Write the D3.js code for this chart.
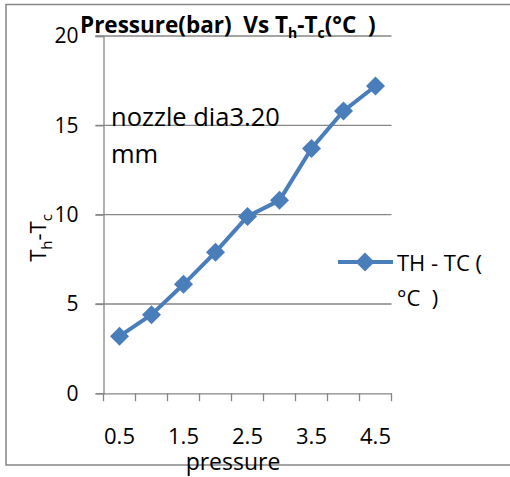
<!DOCTYPE html>
<html><head><meta charset="utf-8">
<script src="https://cdn.jsdelivr.net/npm/d3@7"></script>
<style>body{margin:0;background:#fff}text{font-family:"Open Sans",sans-serif;white-space:pre}</style>
</head><body>
<svg id="c" width="510" height="477"></svg>
<script>
const categories = ["0.5","1","1.5","2","2.5","3","3.5","4","4.5"];
const values = [3.2, 4.4, 6.1, 7.9, 9.9, 10.8, 13.7, 15.8, 17.2];
const yTicks = [0, 5, 10, 15, 20];
const xLabels = ["0.5","1.5","2.5","3.5","4.5"];
const seriesName = "TH - TC (";
const seriesName2 = "°C  )";

const svg = d3.select("#c");
const grey = "#868686", blue = "#4a7ebb";
svg.append("rect").attr("x",6).attr("y",4.5).attr("width",520).attr("height",460.5)
  .attr("fill","none").attr("stroke",grey).attr("stroke-width",1.5);

const L=103.5, R=391.5, T=36, B=393.3;
const x = d3.scaleBand().domain(categories).range([L,R]);
const y = d3.scaleLinear().domain([0,20]).range([B,T]);

// gridlines
svg.append("g").selectAll("line").data(yTicks.slice(1)).join("line")
  .attr("x1",L-8).attr("x2",R).attr("y1",d=>y(d)).attr("y2",d=>y(d))
  .attr("stroke",grey).attr("stroke-width",1.3);

// y axis
const ya = svg.append("g").attr("transform",`translate(${L},0)`)
  .call(d3.axisLeft(y).tickValues(yTicks).tickSize(8).tickPadding(17));
ya.select(".domain").attr("stroke",grey).attr("stroke-width",1.3);
ya.selectAll(".tick line").attr("stroke",grey).attr("stroke-width",1.3);
ya.selectAll("text").attr("font-size",21).attr("fill","#000").attr("font-family","Open Sans");

// x axis
const xa = svg.append("g").attr("transform",`translate(0,${B})`)
  .call(d3.axisBottom(x).tickSize(0).tickFormat(d=>xLabels.includes(d)?d:""));
xa.select(".domain").attr("stroke",grey).attr("stroke-width",1.3);
xa.selectAll("text").attr("font-size",22).attr("fill","#000").attr("dy",0).attr("y",51).attr("font-family","Open Sans");
const edges = categories.map(c=>x(c)).concat([R]);
svg.append("g").selectAll("line").data(edges).join("line")
  .attr("x1",d=>d).attr("x2",d=>d).attr("y1",B).attr("y2",B+8)
  .attr("stroke",grey).attr("stroke-width",1.3);

// line
const cx = d=>x(d)+x.bandwidth()/2;
svg.append("path").datum(values)
  .attr("d", d3.line().x((d,i)=>cx(categories[i])).y(d=>y(d)))
  .attr("fill","none").attr("stroke",blue).attr("stroke-width",4);
const diamond = d3.symbol().type(d3.symbolDiamond2).size(230);
svg.append("g").selectAll("path").data(values).join("path")
  .attr("d",diamond)
  .attr("transform",(d,i)=>`translate(${cx(categories[i])},${y(d)})`)
  .attr("fill",blue);

// title
const t = svg.append("text").attr("x",80).attr("y",33).attr("font-size",22.5).attr("font-weight","bold").attr("font-family","Open Sans");
t.append("tspan").text("Pressure(bar)  Vs T");
t.append("tspan").attr("font-size",14).attr("dy",5).text("h");
t.append("tspan").attr("dy",-5).text("-T");
t.append("tspan").attr("font-size",14).attr("dy",5).text("c");
t.append("tspan").attr("dy",-5).text("(°C  )");

// annotation
svg.append("text").attr("x",111).attr("y",126).attr("font-size",25.5).text("nozzle dia3.20");
svg.append("text").attr("x",111).attr("y",163).attr("font-size",25.5).text("mm");

// axis titles
svg.append("text").attr("x",233).attr("y",470).attr("text-anchor","middle").attr("font-size",23).text("pressure");
const yt = svg.append("text").attr("transform","translate(46,238) rotate(-90)").attr("text-anchor","middle").attr("font-size",22);
yt.append("tspan").text("T");
yt.append("tspan").attr("font-size",15).attr("dy",6).text("h");
yt.append("tspan").attr("dy",-6).text("-T");
yt.append("tspan").attr("font-size",15).attr("dy",6).text("c");

// legend
svg.append("line").attr("x1",338).attr("x2",393).attr("y1",262).attr("y2",262).attr("stroke",blue).attr("stroke-width",4);
svg.append("path").attr("d",diamond).attr("transform","translate(365,262)").attr("fill",blue);
svg.append("text").attr("x",397).attr("y",271).attr("font-size",22).text(seriesName);
svg.append("text").attr("x",397).attr("y",306).attr("font-size",22).text(seriesName2);
</script>
</body></html>
